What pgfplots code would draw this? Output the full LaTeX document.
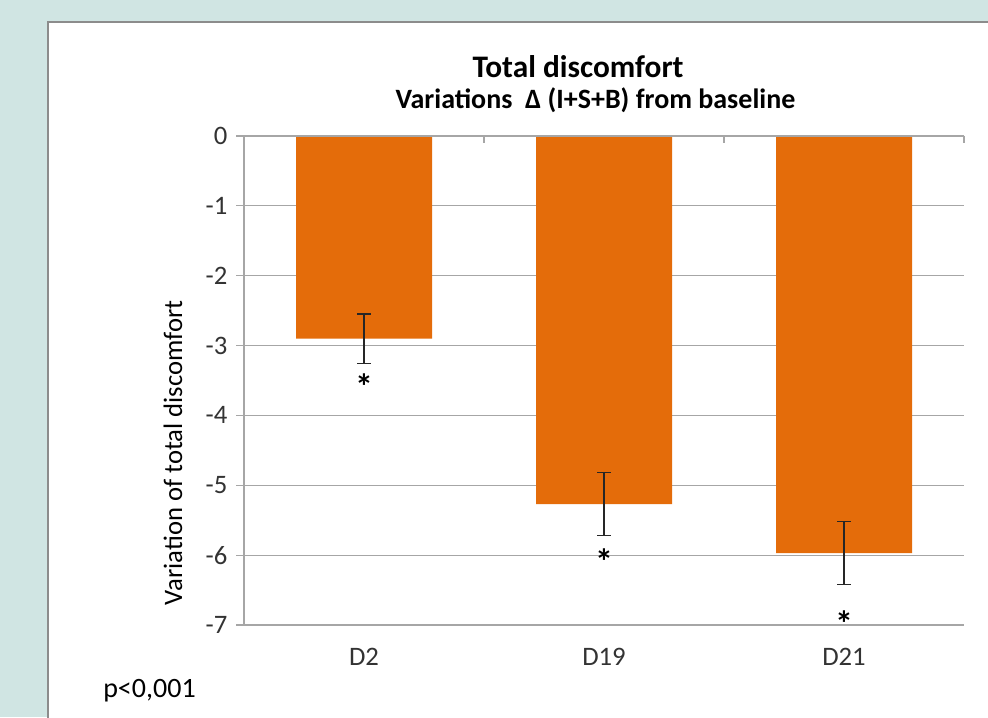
\documentclass[border=0pt]{standalone}
\usepackage{pgfplots}
\pgfplotsset{compat=1.18}
\usepackage{fontspec}
\setmainfont{Carlito}
\definecolor{bgteal}{HTML}{D0E5E3}
\definecolor{barorange}{HTML}{E46C0A}
\definecolor{gridgray}{HTML}{A6A6A6}
\definecolor{panelborder}{HTML}{8C8C8C}
\begin{document}
\begin{tikzpicture}
\useasboundingbox (0,0) rectangle (741pt,537.75pt);
\fill[bgteal] (0,0) rectangle (741pt,537.75pt);
\fill[white] (36pt,-2pt) rectangle (745pt,521.25pt);
\draw[panelborder, line width=1.5pt] (36pt,-2pt) -- (36pt,521.25pt) -- (745pt,521.25pt);
\begin{axis}[
  at={(183pt,69pt)}, anchor=south west, scale only axis,
  width=540pt, height=366.75pt,
  xmin=-0.5, xmax=2.5, ymin=-7, ymax=0,
  axis line style={draw=none},
  xtick={0,1,2}, xticklabels={D2,D19,D21},
  x tick style={draw=none},
  ytick={-7,-6,-5,-4,-3,-2,-1,0},
  tick pos=left, tick align=outside, major tick length=6pt,
  y tick style={gridgray, line width=0.8pt},
  ymajorgrids, grid style={gridgray, line width=0.8pt},
  ticklabel style={font=\fontsize{20}{22}\selectfont, text=black!80},
  /pgf/number format/assume math mode=true,
  yticklabel style={xshift=-3pt},
  xticklabel style={yshift=-8pt},
  ylabel={Variation of total discomfort},
  ylabel style={font=\fontsize{20}{22}\selectfont, at={(axis description cs:-0.0986,0.352)}, anchor=center, rotate=0},
  clip=false,
]
\addplot[ybar, bar width=102pt, fill=barorange, draw=none,
  error bars/.cd, y dir=both, y explicit,
  error bar style={black!85, line width=1.1pt},
  error mark options={rotate=90, mark size=5pt, black!85, line width=1.1pt}]
  coordinates {(0,-2.90) +- (0,0.355) (1,-5.27) +- (0,0.45) (2,-5.97) +- (0,0.45)};
\draw[gridgray, line width=0.8pt] (axis cs:-0.5,-7) -- (axis cs:-0.5,0) -- (axis cs:2.5,0);
\draw[gridgray, line width=0.8pt] (axis cs:0.5,0) -- ([yshift=-5.25pt]axis cs:0.5,0);
\draw[gridgray, line width=0.8pt] (axis cs:1.5,0) -- ([yshift=-5.25pt]axis cs:1.5,0);
\draw[gridgray, line width=0.8pt] (axis cs:2.5,0) -- ([yshift=-5.25pt]axis cs:2.5,0);
\node[font=\bfseries\fontsize{27}{29}\selectfont] at (axis cs:0,-3.59) {*};
\node[font=\bfseries\fontsize{27}{29}\selectfont] at (axis cs:1,-6.09) {*};
\node[font=\bfseries\fontsize{27}{29}\selectfont] at (axis cs:2,-6.985) {*};
\end{axis}
\node[font=\bfseries\fontsize{23.5}{25}\selectfont] at (433.5pt,487.5pt) {Total discomfort};
\node[font=\bfseries\fontsize{21}{23}\selectfont] at (446.6pt,462.75pt) {Variations\ \ Δ (I+S+B) from baseline};
\node[anchor=west, font=\fontsize{21}{23}\selectfont, inner sep=0pt] at (77.25pt,19.5pt) {p<0,001};
\end{tikzpicture}
\end{document}
